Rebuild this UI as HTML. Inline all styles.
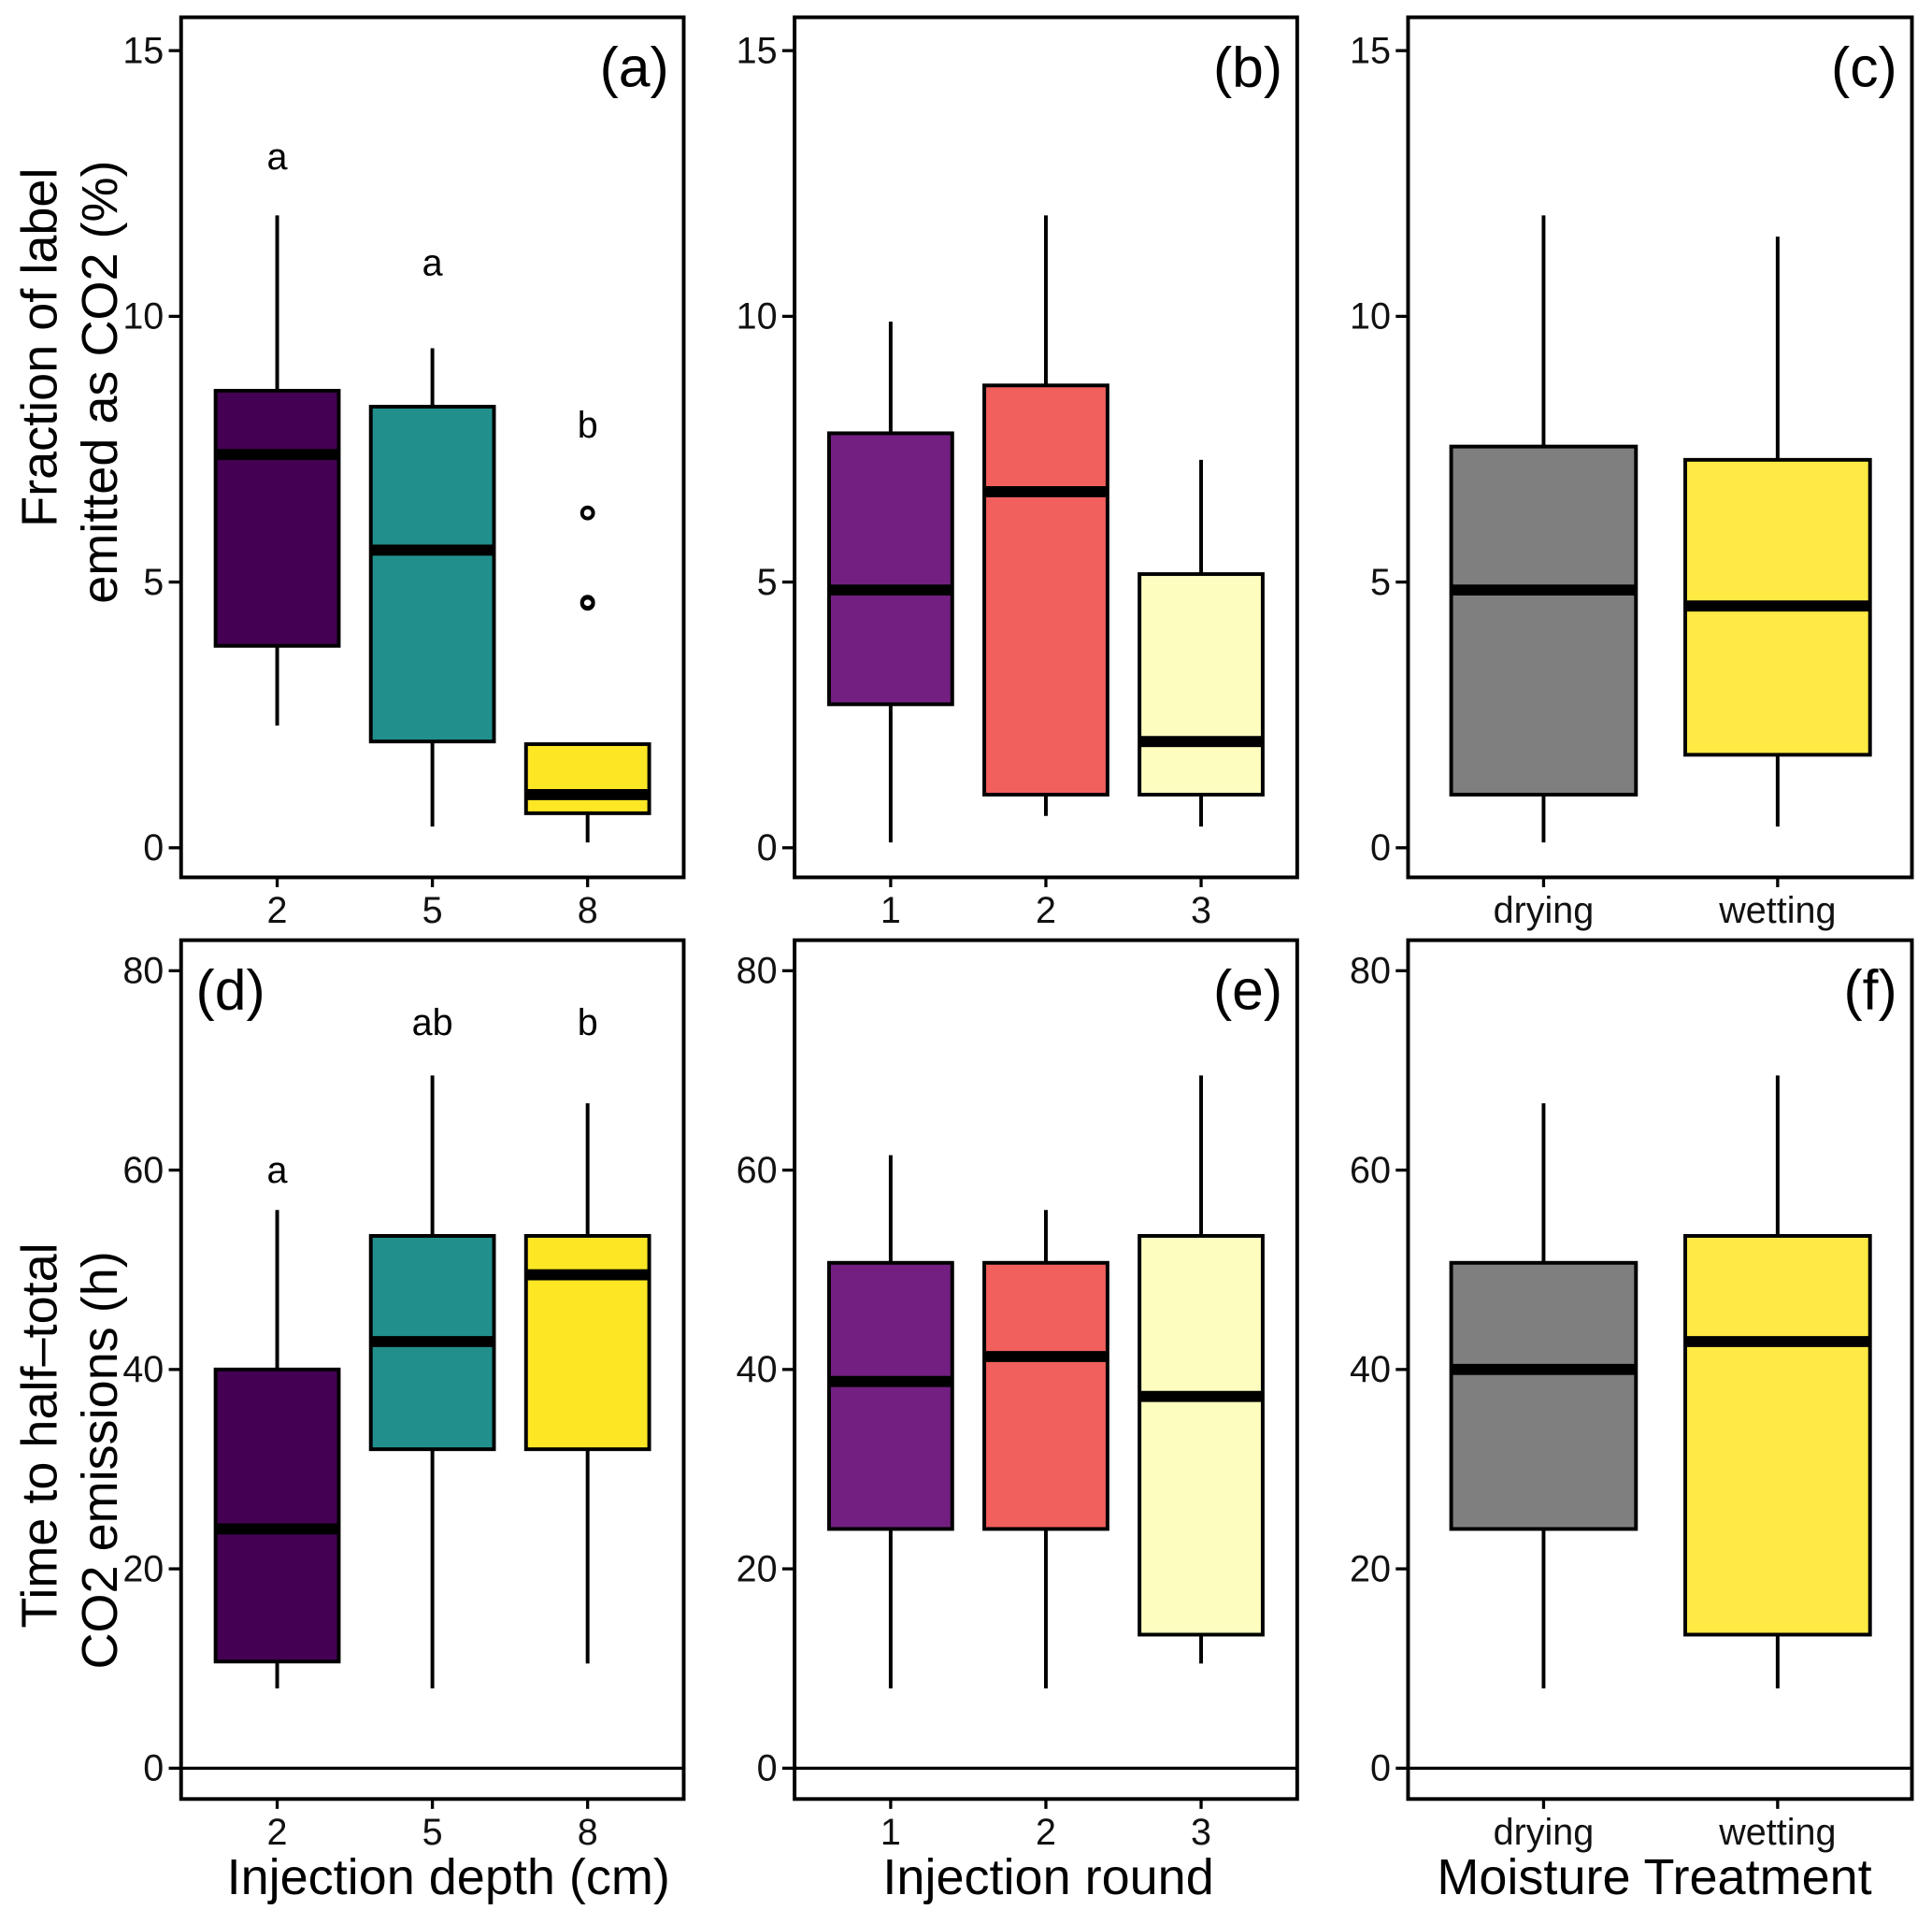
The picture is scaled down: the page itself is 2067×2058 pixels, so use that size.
<!DOCTYPE html>
<html><head><meta charset="utf-8"><style>
html,body{margin:0;padding:0;background:#fff;}
svg{display:block;font-family:"Liberation Sans",Arial,sans-serif;}
</style></head><body>
<svg id="chart" width="2067" height="2058" viewBox="0 0 1568.3 1561.4" xmlns="http://www.w3.org/2000/svg"></svg>
<script>
// ---- data ----
const catsA = ["2","5","8"];
const statsA = [[2.3,3.8,7.4,8.6,11.9],[0.4,2.0,5.6,8.3,9.4],[0.1,0.65,1.0,1.95,1.95]];
const outliersA = [[],[],[6.3,4.6,4.62]];
const lettersA = [["a",13.0],["a",11.0],["b",7.95]];
const colorsA = ["#440154","#21908C","#FDE725"];

const catsB = ["1","2","3"];
const statsB = [[0.1,2.7,4.85,7.8,9.9],[0.6,1.0,6.7,8.7,11.9],[0.4,1.0,2.0,5.15,7.3]];
const colorsB = ["#721F81","#F1605D","#FCFDBF"];

const catsC = ["drying","wetting"];
const statsC = [[0.1,1.0,4.85,7.55,11.9],[0.4,1.75,4.55,7.3,11.5]];
const colorsC = ["#7F7F7F","#FFE945"];

const statsD = [[8,10.7,24,40,56],[8,32,42.8,53.4,69.5],[10.5,32,49.5,53.4,66.7]];
const lettersD = [["a",60],["ab",74.8],["b",74.8]];
const statsE = [[8,24,38.8,50.7,61.5],[8,24,41.3,50.7,56],[10.5,13.4,37.3,53.4,69.5]];
const statsF = [[8,24,40,50.7,66.7],[8,13.4,42.8,53.4,69.5]];

const ticksTop = [0,5,10,15];
const ticksBot = [0,20,40,60,80];

const NS="http://www.w3.org/2000/svg";
const svg=document.getElementById('chart');
function el(tag,attrs,parent){const e=document.createElementNS(NS,tag);for(const k in attrs)e.setAttribute(k,attrs[k]);(parent||svg).appendChild(e);return e;}

const colX=[[147,555],[645,1053],[1143,1552]];
const rowY=[[14,712],[763,1460]];
const topScale=v=>688-43.13*v;
const botScale=v=>1435-8.09*v;

function panel(ci,ri,cats,stats,colors,yScale,ticks,label,opts){
  const g=el('g',{});
  
  
  const [x0,x1]=colX[ci],[y0,y1]=rowY[ri];
  const n=cats.length;
  const xs=n===3?[x0+78,x0+204,x0+330]:[x0+110,x0+300];
  const hw=n===3?50:75;
  if(opts.zeroLine){const z=el('line',{x1:x0,x2:x1,y1:yScale(0),y2:yScale(0),stroke:'#000','stroke-width':2.5},g);
    }
  stats.forEach((s,i)=>{
    const bx=el('g',{},g);
    
    
    el('line',{x1:xs[i],x2:xs[i],y1:yScale(s[0]),y2:yScale(s[4]),stroke:'#000','stroke-width':3},bx);
    el('rect',{x:xs[i]-hw,y:yScale(s[3]),width:2*hw,height:yScale(s[1])-yScale(s[3]),fill:colors[i],stroke:'#000','stroke-width':3},bx);
    el('line',{x1:xs[i]-hw,x2:xs[i]+hw,y1:yScale(s[2]),y2:yScale(s[2]),stroke:'#000','stroke-width':9},bx);
  });
  if(opts.outliers)opts.outliers.forEach((arr,i)=>arr.forEach(v=>{
    const c=el('circle',{cx:xs[i],cy:yScale(v),r:4.5,fill:'none',stroke:'#000','stroke-width':3},g);
    }));
  if(opts.letters)opts.letters.forEach((l,i)=>{
    const t=el('text',{x:xs[i],y:yScale(l[1])+10,'font-size':30,'text-anchor':'middle'},g);t.textContent=l[0];
    });
  const fr=el('rect',{x:x0,y:y0,width:x1-x0,height:y1-y0,fill:'none',stroke:'#000','stroke-width':3},g);
  
  ticks.forEach(v=>{
    el('line',{x1:x0-10,x2:x0,y1:yScale(v),y2:yScale(v),stroke:'#000','stroke-width':2.5},g);
    const t=el('text',{x:x0-14,y:yScale(v)+10,'font-size':30,'text-anchor':'end',fill:'#111'},g);t.textContent=v;
    
  });
  cats.forEach((c,i)=>{
    el('line',{x1:xs[i],x2:xs[i],y1:y1,y2:y1+8,stroke:'#000','stroke-width':2.5},g);
    const t=el('text',{x:xs[i],y:y1+37,'font-size':30,'text-anchor':'middle',fill:'#111'},g);t.textContent=c;
    
  });
  const pl=el('text',{x:opts.labelLeft?x0+12:x1-12,y:y0+56,'font-size':46,'text-anchor':opts.labelLeft?'start':'end'},g);
  pl.textContent=label;
  
}
panel(0,0,catsA,statsA,colorsA,topScale,ticksTop,'(a)',{outliers:outliersA,letters:lettersA});
panel(1,0,catsB,statsB,colorsB,topScale,ticksTop,'(b)',{});
panel(2,0,catsC,statsC,colorsC,topScale,ticksTop,'(c)',{});
panel(0,1,catsA,statsD,colorsA,botScale,ticksBot,'(d)',{letters:lettersD,zeroLine:true,labelLeft:true});
panel(1,1,catsB,statsE,colorsB,botScale,ticksBot,'(e)',{zeroLine:true});
panel(2,1,catsC,statsF,colorsC,botScale,ticksBot,'(f)',{zeroLine:true});

function title(txt,x,y,rot,name){
  const t=el('text',{x:x,y:y,'font-size':41,'text-anchor':'middle',transform:rot?`rotate(-90 ${x} ${y})`:''});
  t.textContent=txt;
  
  
}
title('Fraction of label',46,282,true,'y-axis-title-top-line1');
title('emitted as CO2 (%)',95,310,true,'y-axis-title-top-line2');
title('Time to half\u2013total',46,1165,true,'y-axis-title-bottom-line1');
title('CO2 emissions (h)',95,1185,true,'y-axis-title-bottom-line2');
title('Injection depth (cm)',364,1537,false,'x-axis-title-depth');
title('Injection round',851,1537,false,'x-axis-title-round');
title('Moisture Treatment',1343,1537,false,'x-axis-title-moisture');
</script>
</body></html>
